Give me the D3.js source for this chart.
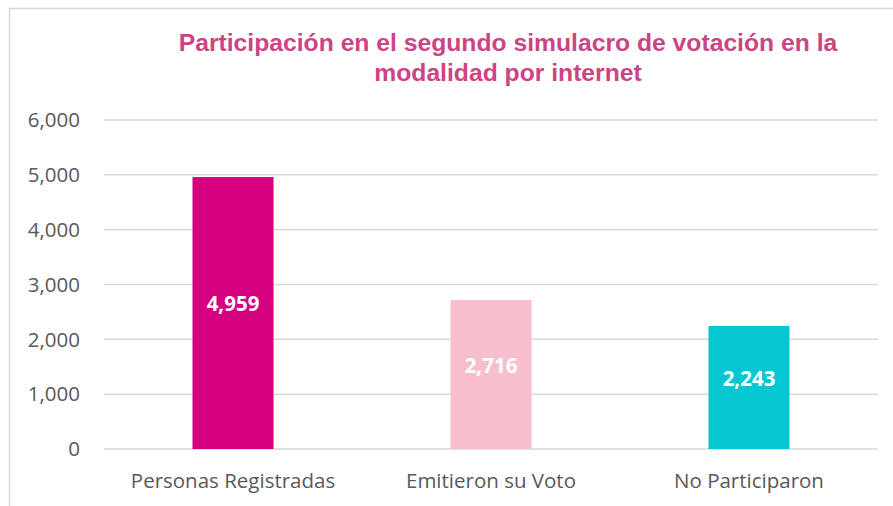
<!DOCTYPE html>
<html>
<head>
<meta charset="utf-8">
<script src="https://cdn.jsdelivr.net/npm/d3@7.8.5/dist/d3.min.js"></script>
<style>
  html, body { margin: 0; padding: 0; background: #fff; }
  svg { display: block; }
</style>
</head>
<body>
<svg id="chart" width="893" height="506"></svg>
<script>
// Datos del gráfico
const categories = ['Personas Registradas', 'Emitieron su Voto', 'No Participaron'];
const values = [4959, 2716, 2243];
const barColors = ['#d5007f', '#f7bfcd', '#05c7d1'];
const yTicks = [0, 1000, 2000, 3000, 4000, 5000, 6000];
const titleLines = ['Participación en el segundo simulacro de votación en la', 'modalidad por internet'];

const svg = d3.select('#chart');
const fmt = d3.format(',');

// Marco
svg.append('rect')
    .attr('x', 9.5).attr('y', 8.5)
    .attr('width', 900).attr('height', 520)
    .attr('fill', 'none')
    .attr('stroke', '#d9d9d9')
    .attr('stroke-width', 1.5);

// Área del gráfico
const plotLeft = 104, plotRight = 878, plotTop = 120, plotBottom = 449;

const x = d3.scaleBand()
    .domain(categories)
    .range([plotLeft, plotRight])
    .paddingInner(0.686)
    .paddingOuter(0.343);

const y = d3.scaleLinear()
    .domain([0, 6000])
    .range([plotBottom, plotTop]);

// Líneas de cuadrícula
svg.append('g')
    .selectAll('line')
    .data(yTicks)
    .join('line')
    .attr('x1', plotLeft).attr('x2', plotRight)
    .attr('y1', d => y(d)).attr('y2', d => y(d))
    .attr('stroke', '#d9d9d9')
    .attr('stroke-width', 1.5);

// Etiquetas del eje Y
svg.append('g')
    .selectAll('text')
    .data(yTicks)
    .join('text')
    .attr('x', 80)
    .attr('y', d => y(d))
    .attr('dy', '0.35em')
    .attr('text-anchor', 'end')
    .attr('font-family', 'Open Sans, sans-serif')
    .attr('font-size', 20.5)
    .attr('fill', '#595959')
    .text(d => fmt(d));

// Barras
svg.append('g')
    .selectAll('rect')
    .data(values)
    .join('rect')
    .attr('x', (d, i) => x(categories[i]))
    .attr('y', d => y(d))
    .attr('width', x.bandwidth())
    .attr('height', d => y(0) - y(d))
    .attr('fill', (d, i) => barColors[i]);

// Etiquetas de valor
svg.append('g')
    .selectAll('text')
    .data(values)
    .join('text')
    .attr('x', (d, i) => x(categories[i]) + x.bandwidth() / 2)
    .attr('y', d => (y(d) + y(0)) / 2 - 9)
    .attr('dy', '0.35em')
    .attr('text-anchor', 'middle')
    .attr('font-family', 'Open Sans, sans-serif')
    .attr('font-weight', 'bold')
    .attr('font-size', 20.5)
    .attr('fill', '#fff')
    .text(d => fmt(d));

// Categorías
svg.append('g')
    .selectAll('text')
    .data(categories)
    .join('text')
    .attr('x', d => x(d) + x.bandwidth() / 2)
    .attr('y', 481)
    .attr('dy', '0.35em')
    .attr('text-anchor', 'middle')
    .attr('font-family', 'Open Sans, sans-serif')
    .attr('font-size', 20.5)
    .attr('fill', '#595959')
    .text(d => d);

// Título
svg.append('g')
    .selectAll('text')
    .data(titleLines)
    .join('text')
    .attr('x', 508)
    .attr('y', (d, i) => 51 + i * 30)
    .attr('text-anchor', 'middle')
    .attr('font-family', 'Liberation Sans, sans-serif')
    .attr('font-weight', 'bold')
    .attr('font-size', 24.7)
    .attr('fill', '#cc4485')
    .text(d => d);
</script>
</body>
</html>
